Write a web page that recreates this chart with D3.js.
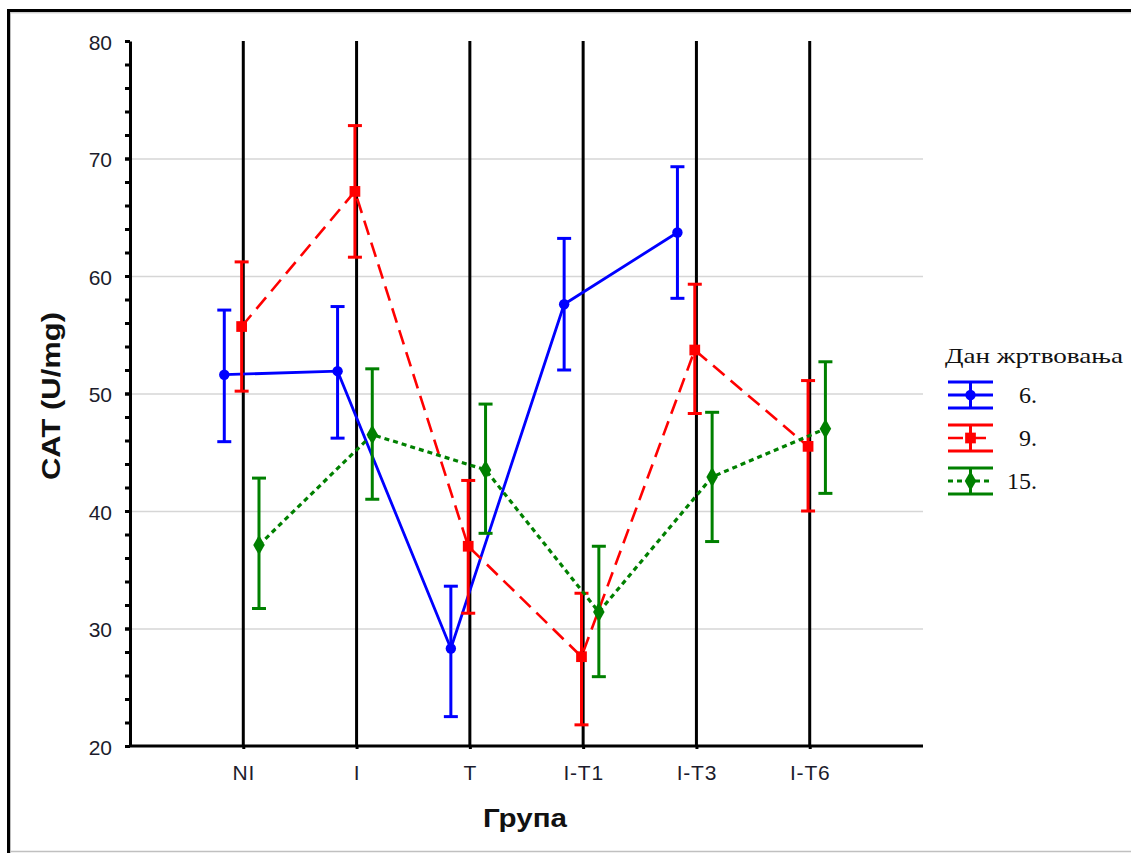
<!DOCTYPE html>
<html>
<head>
<meta charset="utf-8">
<script src="https://cdn.jsdelivr.net/npm/d3@7"></script>
<style>
  body { margin: 0; background: #fff; }
  svg { display: block; }
</style>
</head>
<body>
<svg id="chart"></svg>
<script>
// categories and series
let groups = ['NI', 'I', 'T', 'I-T1', 'I-T3', 'I-T6'];
let seriesNames = ['6.', '9.', '15.'];

// means, then lower / upper end of the error bars
let day6 = [51.6, 51.9, 28.3, 57.6, 63.7, null];
let day6Low = [45.9, 46.2, 22.5, 52.0, 58.1, null];
let day6High = [57.1, 57.4, 33.6, 63.2, 69.3, null];

let day9 = [55.7, 67.2, 37.0, 27.6, 53.7, 45.5];
let day9Low = [50.2, 61.6, 31.3, 21.8, 48.3, 40.0];
let day9High = [61.2, 72.8, 42.6, 33.0, 59.3, 51.1];

let day15 = [37.1, 46.5, 43.5, 31.4, 42.9, 47.0];
let day15Low = [31.7, 41.0, 38.1, 25.9, 37.4, 41.5];
let day15High = [42.8, 52.1, 49.1, 37.0, 48.4, 52.7];

let yTicks = [20, 30, 40, 50, 60, 70, 80];
let gridTicks = [30, 40, 50, 60, 70];
let minorTicks = d3.range(20, 81, 2);

let seriesStyle = {
  '6.': { color: '#0000ff', dash: null, width: 2.8, marker: d3.symbolCircle, size: 85 },
  '9.': { color: '#ff0000', dash: '15,8', width: 2.6, marker: d3.symbolSquare, size: 115 },
  '15.': { color: '#008000', dash: '5,4', width: 3.2, marker: d3.symbolDiamond, size: 115 }
};

// configuration of svg/plot area
let config = { svg: {}, plot: {} };
config.svg.width = 1131;
config.svg.height = 853;
config.plot.left = 130;
config.plot.right = 923;
config.plot.top = 41;
config.plot.bottom = 746;

function translate(x, y) {
  return 'translate(' + x + ',' + y + ')';
}

let svg = d3.select('#chart')
  .attr('width', config.svg.width)
  .attr('height', config.svg.height);

// window frame
svg.append('rect').attr('x', 0).attr('y', 0)
  .attr('width', config.svg.width).attr('height', config.svg.height)
  .attr('fill', '#fff');
svg.append('line').attr('x1', 10).attr('x2', 1131).attr('y1', 851.5).attr('y2', 851.5)
  .attr('stroke', '#c0c0c0').attr('stroke-width', 1.5);
svg.append('line').attr('x1', 10.5).attr('x2', 10.5).attr('y1', 12).attr('y2', 853)
  .attr('stroke', '#bdbdbd').attr('stroke-width', 1);
svg.append('line').attr('x1', 10).attr('x2', 1131).attr('y1', 12.8).attr('y2', 12.8)
  .attr('stroke', '#bdbdbd').attr('stroke-width', 1);
svg.append('path').attr('d', 'M8.5,853 V10.5 H1131')
  .attr('fill', 'none').attr('stroke', '#000').attr('stroke-width', 3);

// scales
let x = d3.scalePoint()
  .domain(groups)
  .range([config.plot.left, config.plot.right])
  .padding(1);

let dodge = d3.scalePoint()
  .domain(seriesNames)
  .range([-19, 15.7]);

let y = d3.scaleLinear()
  .domain([20, 80])
  .range([config.plot.bottom, config.plot.top]);

// grid lines
let grid = svg.append('g').attr('class', 'grid')
  .attr('transform', translate(config.plot.left, 0))
  .call(d3.axisLeft(y).tickValues(gridTicks).tickFormat('')
    .tickSize(-(config.plot.right - config.plot.left)));
grid.select('.domain').remove();
grid.selectAll('line').attr('stroke', '#d6d6d6').attr('stroke-width', 1.6);

// vertical category lines
svg.append('g').selectAll('line')
  .data(groups)
  .enter().append('line')
  .attr('x1', d => x(d)).attr('x2', d => x(d))
  .attr('y1', y(80)).attr('y2', y(20))
  .attr('stroke', '#000').attr('stroke-width', 3);

// y axis: minor ticks every 2, labels every 10
let yMinor = svg.append('g')
  .attr('transform', translate(config.plot.left, 0))
  .call(d3.axisLeft(y).tickValues(minorTicks).tickFormat('').tickSize(5).tickSizeOuter(0));
yMinor.selectAll('line').attr('stroke', '#000').attr('stroke-width', 3);
yMinor.select('.domain').attr('stroke', '#000').attr('stroke-width', 3);

let yAxis = svg.append('g')
  .attr('transform', translate(config.plot.left, 0))
  .call(d3.axisLeft(y).tickValues(yTicks).tickSize(5).tickPadding(13).tickSizeOuter(0));
yAxis.select('.domain').remove();
yAxis.selectAll('line').attr('stroke', '#000').attr('stroke-width', 3);
yAxis.selectAll('text')
  .attr('font-family', 'Liberation Sans, Arial, sans-serif')
  .attr('font-size', 21).attr('fill', '#1c1c2c').attr('dy', '0.4em');

// x axis
let xAxis = svg.append('g')
  .attr('transform', translate(0, config.plot.bottom))
  .call(d3.axisBottom(x).tickSize(3).tickPadding(16).tickSizeOuter(0));
xAxis.select('.domain').attr('d', 'M' + config.plot.left + ',0H' + config.plot.right)
  .attr('stroke', '#000').attr('stroke-width', 3);
xAxis.selectAll('line').attr('stroke', '#000').attr('stroke-width', 3);
xAxis.selectAll('text')
  .attr('font-family', 'Liberation Sans, Arial, sans-serif')
  .attr('font-size', 21).attr('fill', '#1c1c2c')
  .attr('letter-spacing', 0.8);

// axis titles
svg.append('text')
  .attr('transform', translate(60, 396) + ' rotate(-90)')
  .attr('text-anchor', 'middle')
  .attr('font-family', 'Liberation Sans, Arial, sans-serif')
  .attr('font-weight', 'bold').attr('font-size', 25)
  .attr('textLength', 168).attr('lengthAdjust', 'spacingAndGlyphs')
  .attr('fill', '#111')
  .text('CAT (U/mg)');

svg.append('text')
  .attr('x', 525).attr('y', 827)
  .attr('text-anchor', 'middle')
  .attr('font-family', 'Liberation Sans, Arial, sans-serif')
  .attr('font-weight', 'bold').attr('font-size', 25)
  .attr('textLength', 84).attr('lengthAdjust', 'spacingAndGlyphs')
  .attr('fill', '#111')
  .text('Група');

// series
let series = [
  { name: '6.', mean: day6, low: day6Low, high: day6High },
  { name: '9.', mean: day9, low: day9Low, high: day9High },
  { name: '15.', mean: day15, low: day15Low, high: day15High }
];

series.forEach(function(s) {
  let st = seriesStyle[s.name];
  let pts = groups.map((g, i) => ({
    g: g, mean: s.mean[i], low: s.low[i], high: s.high[i]
  })).filter(d => d.mean != null);
  let px = d => x(d.g) + dodge(s.name);

  let g = svg.append('g').attr('class', 'series');

  // error bars
  g.selectAll('.stem').data(pts).enter().append('line')
    .attr('x1', px).attr('x2', px)
    .attr('y1', d => y(d.low)).attr('y2', d => y(d.high))
    .attr('stroke', st.color).attr('stroke-width', 3);
  ['low', 'high'].forEach(function(k) {
    g.selectAll('.cap-' + k).data(pts).enter().append('line')
      .attr('x1', d => px(d) - 7).attr('x2', d => px(d) + 7)
      .attr('y1', d => y(d[k])).attr('y2', d => y(d[k]))
      .attr('stroke', st.color).attr('stroke-width', 3);
  });

  // connecting line
  let line = d3.line().x(px).y(d => y(d.mean));
  g.append('path').datum(pts)
    .attr('d', line)
    .attr('fill', 'none')
    .attr('stroke', st.color)
    .attr('stroke-width', st.width)
    .attr('stroke-dasharray', st.dash);

  // markers
  g.selectAll('.marker').data(pts).enter().append('path')
    .attr('transform', d => translate(px(d), y(d.mean)))
    .attr('d', d3.symbol().type(st.marker).size(st.size))
    .attr('fill', st.color);
});

// legend
let legend = svg.append('g').attr('class', 'legend');
legend.append('text')
  .attr('x', 945).attr('y', 363)
  .attr('font-family', 'Liberation Serif, Times New Roman, serif')
  .attr('font-size', 21).attr('fill', '#111')
  .attr('textLength', 178).attr('lengthAdjust', 'spacingAndGlyphs')
  .text('Дан жртвовања');

seriesNames.forEach(function(name, i) {
  let st = seriesStyle[name];
  let cy = 395 + i * 43;
  let item = legend.append('g').attr('transform', translate(0, cy));
  [-13, 13].forEach(function(dy) {
    item.append('line').attr('x1', 948).attr('x2', 993)
      .attr('y1', dy).attr('y2', dy)
      .attr('stroke', st.color).attr('stroke-width', 3);
  });
  item.append('line').attr('x1', 970.5).attr('x2', 970.5)
    .attr('y1', -13).attr('y2', 13)
    .attr('stroke', st.color).attr('stroke-width', 3);
  item.append('line').attr('x1', 948).attr('x2', 993)
    .attr('y1', 0).attr('y2', 0)
    .attr('stroke', st.color).attr('stroke-width', st.width)
    .attr('stroke-dasharray', st.dash);
  item.append('path')
    .attr('transform', translate(970.5, 0))
    .attr('d', d3.symbol().type(st.marker).size(st.size))
    .attr('fill', st.color);
  item.append('text')
    .attr('x', 1037).attr('y', 8)
    .attr('text-anchor', 'end')
    .attr('font-family', 'Liberation Serif, Times New Roman, serif')
    .attr('font-size', 24).attr('fill', '#111')
    .text(name);
});
</script>
</body>
</html>
